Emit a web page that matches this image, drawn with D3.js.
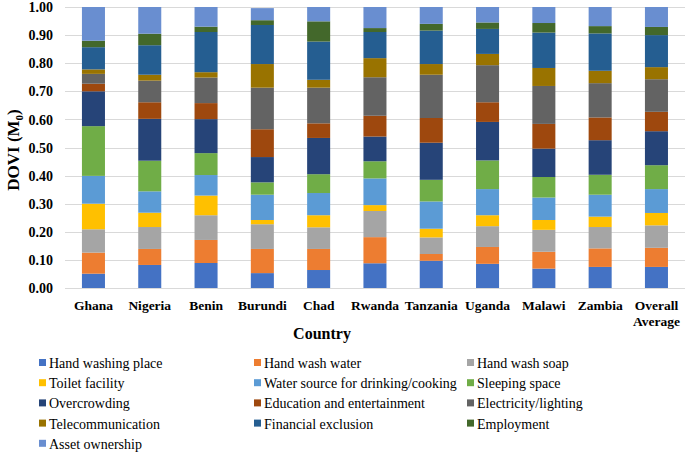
<!DOCTYPE html>
<html>
<head>
<meta charset="utf-8">
<script src="https://cdnjs.cloudflare.com/ajax/libs/d3/7.8.5/d3.min.js"></script>
<style>
  html, body { margin: 0; padding: 0; background: #fff; }
  svg { display: block; font-family: "Liberation Serif", "Times New Roman", serif; }
</style>
</head>
<body>
<svg id="chart" width="685" height="452"></svg>
<script>
const countries = ["Ghana", "Nigeria", "Benin", "Burundi", "Chad", "Rwanda", "Tanzania", "Uganda", "Malawi", "Zambia", "Overall Average"];
const indicators = ["Hand washing place", "Hand wash water", "Hand wash soap", "Toilet facility",
  "Water source for drinking/cooking", "Sleeping space", "Overcrowding", "Education and entertainment",
  "Electricity/lighting", "Telecommunication", "Financial exclusion", "Employment", "Asset ownership"];
const colors = ["#4472C4", "#ED7D31", "#A5A5A5", "#FFC000", "#5B9BD5", "#70AD47", "#264478",
  "#9E480E", "#636363", "#997300", "#255E91", "#43682B", "#698ED0"];
const yTicks = [0, 0.1, 0.2, 0.3, 0.4, 0.5, 0.6, 0.7, 0.8, 0.9, 1.0];

// one array per country, in indicator order
const ghana    = [0.051, 0.075, 0.083, 0.091, 0.099, 0.177, 0.124, 0.027, 0.035, 0.016, 0.079, 0.023, 0.120];
const nigeria  = [0.082, 0.057, 0.078, 0.051, 0.076, 0.109, 0.149, 0.059, 0.077, 0.021, 0.105, 0.041, 0.095];
const benin    = [0.089, 0.082, 0.088, 0.070, 0.073, 0.078, 0.121, 0.057, 0.091, 0.019, 0.143, 0.019, 0.070];
const burundi  = [0.053, 0.086, 0.088, 0.015, 0.090, 0.044, 0.090, 0.099, 0.148, 0.084, 0.139, 0.017, 0.043];
const chad     = [0.064, 0.075, 0.077, 0.043, 0.079, 0.067, 0.129, 0.052, 0.127, 0.028, 0.136, 0.072, 0.051];
const rwanda   = [0.088, 0.093, 0.093, 0.021, 0.095, 0.061, 0.088, 0.074, 0.137, 0.068, 0.093, 0.014, 0.075];
const tanzania = [0.097, 0.024, 0.059, 0.031, 0.097, 0.077, 0.132, 0.088, 0.154, 0.038, 0.119, 0.024, 0.060];
const uganda   = [0.086, 0.060, 0.074, 0.039, 0.093, 0.102, 0.137, 0.070, 0.132, 0.040, 0.089, 0.023, 0.055];
const malawi   = [0.069, 0.060, 0.078, 0.035, 0.080, 0.073, 0.101, 0.088, 0.135, 0.064, 0.126, 0.034, 0.057];
const zambia   = [0.075, 0.066, 0.076, 0.037, 0.078, 0.071, 0.123, 0.081, 0.122, 0.044, 0.133, 0.026, 0.068];
const overall  = [0.075, 0.068, 0.080, 0.044, 0.085, 0.085, 0.121, 0.069, 0.116, 0.043, 0.114, 0.029, 0.071];
const seriesByCountry = [ghana, nigeria, benin, burundi, chad, rwanda, tanzania, uganda, malawi, zambia, overall];

const table = countries.map((c, i) => {
  const row = { country: c };
  indicators.forEach((k, j) => row[k] = seriesByCountry[i][j]);
  return row;
});

const svg = d3.select("#chart");
const x = d3.scaleBand().domain(countries).range([65.3, 684.6]).paddingInner(0.591).paddingOuter(0.2955);
const y = d3.scaleLinear().domain([0, 1]).range([288, 7]);

// gridlines
svg.append("g").selectAll("line").data(yTicks).join("line")
  .attr("x1", 65).attr("x2", 685)
  .attr("y1", d => Math.round(y(d)) + 0.5).attr("y2", d => Math.round(y(d)) + 0.5)
  .attr("stroke", "#d9d9d9").attr("stroke-width", 1);

// y axis labels
const yAxis = d3.axisLeft(y).tickValues(yTicks).tickFormat(d3.format(".2f")).tickSize(0).tickPadding(0);
const gy = svg.append("g").attr("transform", "translate(53,0)").call(yAxis);
gy.select(".domain").remove();
gy.selectAll("text").attr("font-family", "'Liberation Serif', serif").attr("font-size", 14)
  .attr("font-weight", "bold").attr("fill", "#000").attr("dy", "0.33em");

// stacked bars
const stack = d3.stack().keys(indicators);
const series = stack(table);
svg.append("g").selectAll("g").data(series).join("g")
  .attr("fill", (d, i) => colors[i])
  .selectAll("rect").data(d => d).join("rect")
  .attr("x", d => x(d.data.country))
  .attr("width", x.bandwidth())
  .attr("y", d => y(d[1]))
  .attr("height", d => y(d[0]) - y(d[1]));

// x axis labels
const xAxis = d3.axisBottom(x).tickSize(0).tickPadding(0);
const gx = svg.append("g").attr("transform", "translate(0,300)").call(xAxis);
gx.select(".domain").remove();
gx.selectAll("text").attr("font-family", "'Liberation Serif', serif").attr("font-size", 13.5)
  .attr("font-weight", "bold").attr("fill", "#000").attr("dy", "0.71em")
  .each(function(d) {
    const t = d3.select(this);
    const words = d.split(" ");
    if (words.length > 1) {
      t.text(null);
      words.forEach((w, i) => t.append("tspan").attr("x", 0).attr("dy", i === 0 ? "0.71em" : "1.2em").text(w));
    }
  });

// axis titles
svg.append("text").attr("x", 322).attr("y", 339).attr("text-anchor", "middle")
  .attr("font-size", 16).attr("font-weight", "bold").text("Country");

const yt = svg.append("text").attr("transform", "translate(19,150) rotate(-90)")
  .attr("text-anchor", "middle").attr("font-size", 17).attr("font-weight", "bold");
yt.append("tspan").text("DOVI (M");
yt.append("tspan").attr("font-size", 11).attr("dy", 4).text("0");
yt.append("tspan").attr("dy", -4).text(")");

// legend
const colX = [39, 254, 467];
const lg = svg.append("g").selectAll("g").data(indicators).join("g")
  .attr("transform", (d, i) => `translate(${colX[i % 3]},${363 + Math.floor(i / 3) * 20.2})`);
lg.append("rect").attr("x", 0).attr("y", -4).attr("width", 7).attr("height", 7)
  .attr("fill", (d, i) => colors[i]);
lg.append("text").attr("x", 10).attr("y", 0).attr("dy", "0.35em")
  .attr("font-size", 14).attr("fill", "#000").text(d => d);
</script>
</body>
</html>
